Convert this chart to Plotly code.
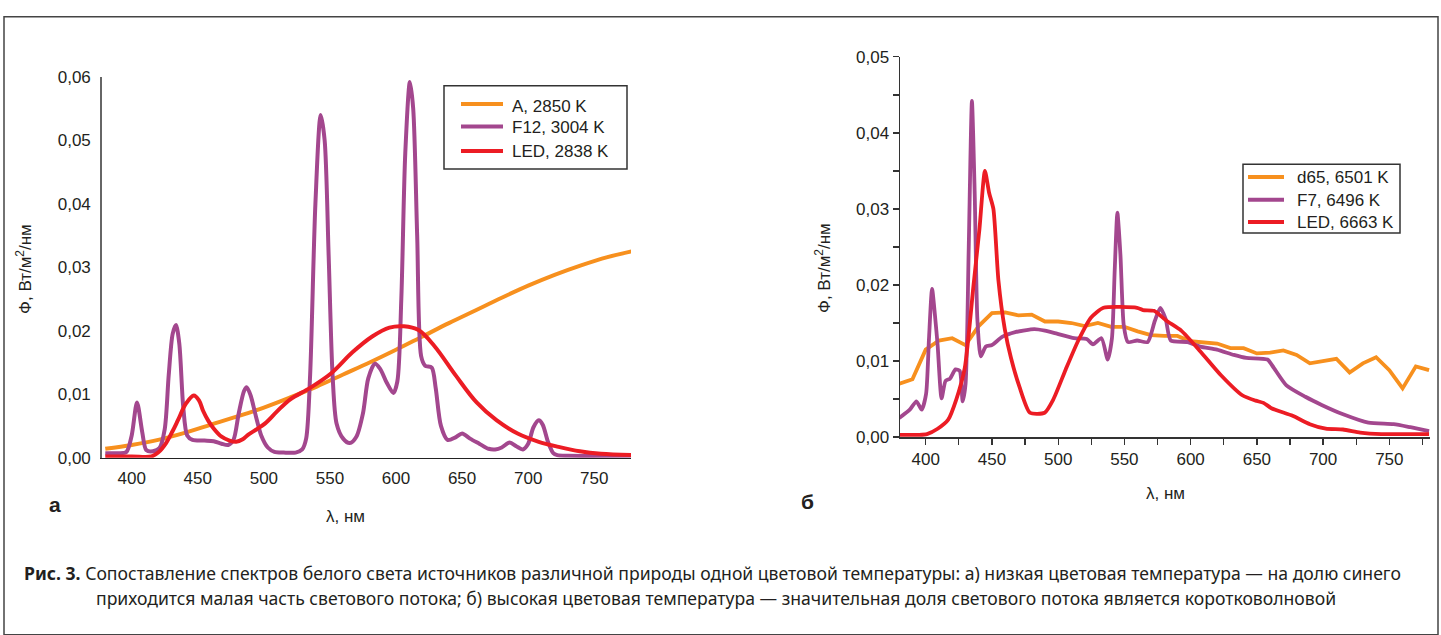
import plotly.graph_objects as go

W, H = 1441, 635

# ---------------- data: panel a ----------------
a_A_wl = [380, 400, 420, 440, 460, 480, 500, 520, 540, 560, 580, 600, 620, 640, 660, 680, 700, 720, 740, 760, 780]
a_A_val = [0.0014, 0.0020, 0.0028, 0.0039, 0.0052, 0.0065, 0.0079, 0.0095, 0.0112, 0.0131, 0.0150, 0.0170,
           0.0191, 0.0212, 0.0232, 0.0252, 0.0271, 0.0288, 0.0303, 0.0316, 0.0326]

a_F12_wl = [380, 390, 396, 400, 404, 408, 411, 416, 421, 425, 428, 431, 433.5, 436, 439, 442, 446, 455, 462,
            468, 473, 477, 481, 485, 487, 490, 494, 498, 503, 508, 515, 524, 529, 532, 535, 539, 543, 546,
            549, 552, 555, 560, 565, 570, 575, 579, 584, 588, 593, 598, 601, 604, 607, 610.5, 613, 616, 619,
            622, 627, 630, 634, 639, 645, 650, 656, 663, 670, 675, 680, 686, 691, 696, 700, 704, 708, 711,
            715, 719, 722, 730, 780]
a_F12_val = [0.0007, 0.0007, 0.0009, 0.0035, 0.0087, 0.0040, 0.0012, 0.0010, 0.0015, 0.0045, 0.0130, 0.0195,
             0.0209, 0.0180, 0.0080, 0.0035, 0.0028, 0.0027, 0.0026, 0.0022, 0.0020, 0.0028, 0.0070, 0.0105,
             0.0111, 0.0098, 0.0065, 0.0035, 0.0016, 0.0009, 0.0008, 0.0008, 0.0013, 0.0030, 0.0130, 0.0400,
             0.0540, 0.0500, 0.0320, 0.0130, 0.0054, 0.0030, 0.0023, 0.0033, 0.0070, 0.0125, 0.0148, 0.0140,
             0.0118, 0.0102, 0.0120, 0.0250, 0.0480, 0.0592, 0.0550, 0.0350, 0.0160, 0.0145, 0.0142, 0.0110,
             0.0050, 0.0028, 0.0032, 0.0038, 0.0030, 0.0022, 0.0014, 0.0013, 0.0016, 0.0024, 0.0018, 0.0013,
             0.0022, 0.0048, 0.0059, 0.0052, 0.0025, 0.0007, 0.0004, 0.0003, 0.0003]

a_LED_wl = [380, 400, 415, 420, 426, 431, 435, 441, 447, 451, 454, 458, 462, 468, 474, 479, 484, 488, 494,
            501, 510, 520, 535, 551, 567, 582, 595, 606, 617, 629, 645, 661, 676, 692, 708, 723, 739, 755, 778]
a_LED_val = [0.0002, 0.0002, 0.0002, 0.0008, 0.0023, 0.0042, 0.0059, 0.0085, 0.0098, 0.0090, 0.0074, 0.0058,
             0.0046, 0.0033, 0.0027, 0.0025, 0.0029, 0.0036, 0.0044, 0.0054, 0.0073, 0.0092, 0.0110, 0.0133,
             0.0166, 0.0191, 0.0205, 0.0207, 0.0201, 0.0176, 0.0130, 0.0087, 0.0059, 0.0038, 0.0025, 0.0017,
             0.0010, 0.0006, 0.0004]

# ---------------- data: panel б ----------------
b_D65_wl = list(range(380, 790, 10))
b_D65_val = [0.0070, 0.0076, 0.0115, 0.0127, 0.0130, 0.0121, 0.0146, 0.0163, 0.0164, 0.0160, 0.0161, 0.0152,
             0.0152, 0.0150, 0.0146, 0.0150, 0.0145, 0.0145, 0.0139, 0.0134, 0.0133, 0.0133, 0.0126, 0.0125,
             0.0123, 0.0117, 0.0117, 0.0110, 0.0111, 0.0114, 0.0108, 0.0097, 0.0100, 0.0103, 0.0085, 0.0097,
             0.0105, 0.0088, 0.0064, 0.0093, 0.0088]

b_F7_wl = [380, 388, 393, 397, 400.3, 402.5, 404.8, 407, 409, 412, 415, 418.4, 422.5, 425.7, 427.9, 430.1,
           432.5, 434.9, 437, 439, 441.6, 445.4, 450, 458, 467.6, 482, 490, 499, 512, 521.5, 526.3, 532.7,
           537.4, 540.6, 542.7, 544.7, 547, 549.5, 552.6, 559.6, 567.6, 573, 577.1, 581.2, 585, 597.7, 607.2,
           619.9, 632.6, 642.1, 658, 662.8, 672.3, 686.6, 699.3, 715.1, 734.2, 753.2, 765.9, 780]
b_F7_val = [0.0025, 0.0036, 0.0047, 0.0036, 0.0057, 0.0130, 0.0195, 0.0160, 0.0121, 0.0051, 0.0074, 0.0077,
            0.0089, 0.0087, 0.0047, 0.0070, 0.0250, 0.0442, 0.0320, 0.0155, 0.0106, 0.0119, 0.0121, 0.0132,
            0.0138, 0.0142, 0.0140, 0.0136, 0.0130, 0.0129, 0.0122, 0.0130, 0.0102, 0.0130, 0.0220, 0.0295,
            0.0240, 0.0147, 0.0125, 0.0127, 0.0125, 0.0153, 0.0170, 0.0155, 0.0127, 0.0125, 0.0119, 0.0115,
            0.0108, 0.0104, 0.0102, 0.0091, 0.0068, 0.0053, 0.0042, 0.0030, 0.0019, 0.0017, 0.0013, 0.0008]

b_LED_wl = [380, 395, 401, 409, 417, 423, 429.5, 436, 440.6, 444.7, 447.9, 451.1, 454.9, 459.7, 464.4, 470.8,
            478.7, 489.8, 496.2, 505.7, 515.2, 524.7, 534.2, 559.6, 564, 572.3, 581.8, 592.9, 607.2, 623.1,
            639, 649, 655, 661, 677, 690, 702, 715, 728, 744, 780]
b_LED_val = [0.0003, 0.0003, 0.0004, 0.0011, 0.0023, 0.0049, 0.0091, 0.0198, 0.0274, 0.0350, 0.0321, 0.0300,
             0.0206, 0.0142, 0.0104, 0.0066, 0.0032, 0.0032, 0.0049, 0.0089, 0.0127, 0.0157, 0.0170, 0.0170,
             0.0167, 0.0166, 0.0153, 0.0140, 0.0113, 0.0081, 0.0055, 0.0048, 0.0045, 0.0038, 0.0028, 0.0017,
             0.0011, 0.0010, 0.0006, 0.0004, 0.0004]

names_a = ["A, 2850 K", "F12, 3004 K", "LED, 2838 K"]
names_b = ["d65, 6501 K", "F7, 6496 K", "LED, 6663 K"]
x_ticks = [400, 450, 500, 550, 600, 650, 700, 750]
y_ticks_a = [0, 0.01, 0.02, 0.03, 0.04, 0.05, 0.06]

ORANGE = "#F7901E"
PURPLE = "#A3478E"
RED = "#EC1C24"
COLORS = [ORANGE, PURPLE, RED]
TXT = "#231F20"
FONT = "Liberation Sans, Arial, sans-serif"
CAP_FONT = "Noto Sans, Open Sans, sans-serif"


def px_x(p):
    return p / W


def px_y(p):
    return 1 - p / H


fig = go.Figure()

# panel a
fig.add_trace(go.Scatter(x=a_A_wl, y=a_A_val, name=names_a[0], mode="lines",
                         line=dict(color=ORANGE, width=4, shape="spline"), xaxis="x", yaxis="y"))
fig.add_trace(go.Scatter(x=a_F12_wl, y=a_F12_val, name=names_a[1], mode="lines",
                         line=dict(color=PURPLE, width=4, shape="spline", smoothing=0.8), xaxis="x", yaxis="y"))
fig.add_trace(go.Scatter(x=a_LED_wl, y=a_LED_val, name=names_a[2], mode="lines",
                         line=dict(color=RED, width=4, shape="spline"), xaxis="x", yaxis="y"))

# panel б
fig.add_trace(go.Scatter(x=b_D65_wl, y=b_D65_val, name=names_b[0], mode="lines",
                         line=dict(color=ORANGE, width=3.8), xaxis="x2", yaxis="y2"))
fig.add_trace(go.Scatter(x=b_F7_wl, y=b_F7_val, name=names_b[1], mode="lines",
                         line=dict(color=PURPLE, width=3.8, shape="spline", smoothing=0.6), xaxis="x2", yaxis="y2"))
fig.add_trace(go.Scatter(x=b_LED_wl, y=b_LED_val, name=names_b[2], mode="lines",
                         line=dict(color=RED, width=3.8, shape="spline", smoothing=0.6), xaxis="x2", yaxis="y2"))

tickfont = dict(family=FONT, size=17, color=TXT)

fig.update_layout(
    width=W, height=H,
    margin=dict(l=0, r=0, t=0, b=0),
    paper_bgcolor="white", plot_bgcolor="white",
    separators=", ",
    showlegend=False,
    hovermode=False,
    font=dict(family=FONT, size=17, color=TXT),
    xaxis=dict(domain=[px_x(101.7), px_x(631)], range=[377.3, 777.8], showgrid=False, zeroline=False,
               showline=True, linecolor="#222", linewidth=1.5, ticks="", tickvals=x_ticks,
               tickfont=tickfont, anchor="y", fixedrange=True, ticklabelstandoff=4),
    yaxis=dict(domain=[px_y(462.5), px_y(70)], range=[0, 0.06], showgrid=False, zeroline=False,
               showline=True, linecolor="#666", linewidth=1.5, ticks="", tickvals=y_ticks_a,
               tickformat=".2f", tickfont=tickfont, anchor="x", fixedrange=True, ticklabelstandoff=6),
    xaxis2=dict(domain=[px_x(900), px_x(1430)], range=[380.6, 780.7], showgrid=False, zeroline=False,
                showline=True, linecolor="#333", linewidth=1.5, ticks="outside", ticklen=6, tickwidth=1.3,
                tickcolor="#333", dtick=50, tick0=400, tickfont=tickfont, anchor="y2", fixedrange=True,
                minor=dict(dtick=25, tick0=400, ticks="outside", ticklen=6, tickwidth=1.3, tickcolor="#333")),
    yaxis2=dict(domain=[px_y(441.3), px_y(49.3)], range=[0, 0.05], showgrid=False, zeroline=False,
                showline=True, linecolor="#333", linewidth=1.5, ticks="outside", ticklen=6, tickwidth=1.3,
                tickcolor="#333", dtick=0.01, tick0=0, tickformat=".2f", tickfont=tickfont, anchor="x2",
                fixedrange=True,
                minor=dict(dtick=0.005, tick0=0, ticks="outside", ticklen=6, tickwidth=1.3, tickcolor="#333")),
)

ann = []
shapes = []


def add_text(text, x, y, size=17, family=FONT, angle=0, xanchor="center"):
    ann.append(dict(text=text, x=px_x(x), y=px_y(y), xref="paper", yref="paper", textangle=angle,
                    showarrow=False, font=dict(family=family, size=size, color=TXT),
                    xanchor=xanchor, yanchor="middle"))


# legends drawn as boxes, line samples and labels
def add_legend(names, box, line_x, text_x, rows_line, rows_text):
    shapes.append(dict(type="rect", xref="paper", yref="paper", x0=px_x(box[0]), x1=px_x(box[1]),
                       y0=px_y(box[3]), y1=px_y(box[2]), line=dict(color="#333", width=1.5),
                       fillcolor="white", layer="above"))
    for name, col, yl, yt in zip(names, COLORS, rows_line, rows_text):
        shapes.append(dict(type="line", xref="paper", yref="paper", x0=px_x(line_x[0]), x1=px_x(line_x[1]),
                           y0=px_y(yl), y1=px_y(yl), line=dict(color=col, width=4), layer="above"))
        add_text(name, text_x, yt, xanchor="left")


add_legend(names_a, (444, 627, 79, 165), (461, 503), 510, (98, 121, 146.5), (100.5, 122.5, 146.5))
add_legend(names_b, (1243, 1400, 160, 231), (1248, 1284), 1295, (173.3, 196.7, 219.5), (174, 197, 220))

ylab = "Ф, Вт/м<sup>2</sup>/нм"
add_text(ylab, 24, 268, angle=-90)
add_text(ylab, 823, 267, angle=-90)
add_text("λ, нм", 345, 523)
add_text("λ, нм", 1165, 499)
add_text("<b>а</b>", 55, 511, size=21)
add_text("<b>б</b>", 807, 508, size=21)
add_text("<b>Рис. 3.</b> Сопоставление спектров белого света источников различной природы одной цветовой температуры: "
         "а) низкая цветовая температура — на долю синего", 712.5, 581, size=17.6, family=CAP_FONT)
add_text("приходится малая часть светового потока; б) высокая цветовая температура — значительная доля светового "
         "потока является коротковолновой", 716, 607, size=17.6, family=CAP_FONT)

# outer frame
shapes.append(dict(type="rect", xref="paper", yref="paper", x0=px_x(4), x1=px_x(1438), y0=px_y(645),
                   y1=px_y(8), line=dict(color="#444", width=1.5), fillcolor="rgba(0,0,0,0)", layer="below"))

fig.update_layout(annotations=ann, shapes=shapes)

fig.write_html("out.html", config={"displayModeBar": False, "staticPlot": True},
               post_script="document.body.style.margin='0';document.body.style.padding='0';")
